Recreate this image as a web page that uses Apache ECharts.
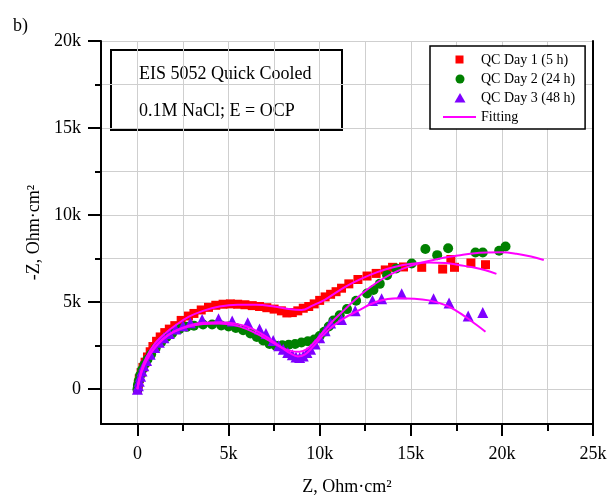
<!DOCTYPE html>
<html>
<head>
<meta charset="utf-8">
<script src="https://cdn.jsdelivr.net/npm/echarts@6/dist/echarts.min.js"></script>
<style>html,body{margin:0;padding:0;background:#fff;}#c{width:613px;height:496px;}</style>
</head>
<body>
<div id="c"></div>
<script>
// values in kOhm·cm²: [Z', -Z'']
const day1 = [[0,0],[0.05,0.3],[0.1,0.6],[0.2,0.95],[0.3,1.25],[0.42,1.55],[0.55,1.85],[0.7,2.15],[0.85,2.45],[1.05,2.75],[1.25,3.0],[1.5,3.25],[1.75,3.45],[2.05,3.65],[2.4,3.95],[2.8,4.2],[3.1,4.35],[3.5,4.55],[3.9,4.7],[4.3,4.82],[4.7,4.88],[5.1,4.9],[5.5,4.88],[5.9,4.85],[6.3,4.8],[6.7,4.75],[7.1,4.68],[7.5,4.6],[7.9,4.5],[8.2,4.38],[8.5,4.4],[8.8,4.5],[9.1,4.65],[9.4,4.75],[9.7,4.9],[10.0,5.1],[10.3,5.3],[10.6,5.45],[10.9,5.6],[11.2,5.8],[11.6,6.05],[12.1,6.3],[12.6,6.5],[13.1,6.65],[13.6,6.85],[14.0,7.0],[14.6,7.02],[15.6,7.0],[16.75,6.9],[17.2,7.45],[17.4,7.0],[18.3,7.25],[19.1,7.15]];
const day2 = [[0,0],[0.03,0.25],[0.08,0.5],[0.15,0.8],[0.25,1.1],[0.38,1.4],[0.55,1.7],[0.75,2.0],[1.0,2.35],[1.3,2.7],[1.6,3.0],[1.9,3.2],[2.3,3.45],[2.7,3.58],[3.1,3.65],[3.6,3.72],[4.1,3.72],[4.6,3.66],[5.0,3.6],[5.4,3.52],[5.8,3.38],[6.2,3.2],[6.55,3.0],[6.9,2.8],[7.25,2.6],[7.6,2.5],[7.95,2.52],[8.3,2.55],[8.65,2.6],[9.0,2.68],[9.35,2.75],[9.7,2.85],[10.0,3.05],[10.25,3.3],[10.5,3.6],[10.75,3.95],[11.1,4.25],[11.5,4.6],[12.0,5.08],[12.6,5.5],[12.95,5.7],[13.3,6.05],[13.7,6.55],[14.2,6.93],[15.05,7.22],[15.8,8.05],[16.45,7.7],[17.05,8.1],[18.55,7.85],[18.95,7.85],[19.85,7.95],[20.2,8.2]];
const day3 = [[0,0],[0.05,0.2],[0.1,0.45],[0.17,0.75],[0.25,1.05],[0.35,1.35],[0.5,1.65],[0.7,2.0],[0.95,2.4],[1.2,2.7],[1.45,2.95],[1.75,3.2],[2.1,3.45],[2.5,3.65],[2.9,3.82],[3.55,4.0],[4.45,4.05],[5.2,3.92],[6.05,3.82],[6.7,3.45],[7.05,3.2],[7.45,2.8],[7.75,2.5],[8.0,2.3],[8.25,2.1],[8.5,1.98],[8.7,1.85],[8.9,1.82],[9.1,1.9],[9.3,2.1],[9.5,2.3],[9.75,2.6],[10.0,2.95],[10.3,3.35],[10.6,3.8],[11.2,4.0],[11.95,4.5],[12.9,5.1],[13.4,5.2],[14.5,5.48],[16.25,5.2],[17.1,4.95],[18.15,4.2],[18.95,4.4]];
const fit1 = [[0,0],[0.08,0.5],[0.25,1.2],[0.5,1.85],[0.9,2.55],[1.4,3.1],[2.0,3.6],[2.8,4.15],[3.6,4.5],[4.5,4.75],[5.5,4.85],[6.5,4.85],[7.5,4.75],[8.3,4.6],[9.0,4.55],[9.6,4.8],[10.3,5.15],[11.4,5.88],[12.3,6.35],[13.2,6.74],[14.1,7.02],[15.06,7.2],[16.0,7.27],[16.9,7.25],[17.7,7.12],[18.4,7.0],[19.1,6.83],[19.7,6.62]];
const fit2 = [[0,0],[0.08,0.45],[0.25,1.1],[0.5,1.7],[0.9,2.35],[1.4,2.9],[2.0,3.3],[2.8,3.6],[3.6,3.75],[4.5,3.78],[5.3,3.68],[6.0,3.45],[6.7,3.1],[7.3,2.75],[7.9,2.4],[8.4,2.2],[8.9,2.15],[9.3,2.3],[9.7,2.7],[10.2,3.3],[10.8,4.0],[11.4,4.6],[12.0,5.2],[12.7,5.8],[13.4,6.3],[14.2,6.75],[15.0,7.08],[15.8,7.32],[16.8,7.55],[17.6,7.68],[18.4,7.8],[19.2,7.85],[20.0,7.86],[20.8,7.78],[21.6,7.62],[22.3,7.42]];
const fit3 = [[0,0],[0.08,0.4],[0.25,1.05],[0.5,1.65],[0.9,2.3],[1.4,2.85],[2.0,3.3],[2.8,3.65],[3.6,3.82],[4.5,3.85],[5.3,3.78],[6.0,3.6],[6.7,3.25],[7.3,2.85],[7.9,2.4],[8.4,2.05],[8.8,1.88],[9.2,2.0],[9.6,2.4],[10.1,3.0],[10.7,3.6],[11.3,4.05],[12.0,4.45],[13.2,5.05],[14.3,5.22],[15.2,5.2],[16.0,5.1],[16.9,4.83],[17.5,4.5],[18.0,4.16],[18.6,3.7],[19.1,3.3]];
const seriesNames = ['QC Day 1 (5 h)','QC Day 2 (24 h)','QC Day 3 (48 h)','Fitting'];
const xMajorTicks = [0,5,10,15,20,25];
const xMinorTicks = [0,2.5,5,7.5,10,12.5,15,17.5,20,22.5,25];
const yMajorTicks = [0,5,10,15,20];
const yMinorTicks = [0,2.5,5,7.5,10,12.5,15,17.5,20];
const annotationLines = ['EIS 5052 Quick Cooled','0.1M NaCl; E = OCP'];

const FONT = 'Liberation Serif';
const fmtK = v => v === 0 ? '0' : v + 'k';
// legend icons padded to the full 33x10 item box so they keep their own size
const legendIcons = [
  'path://M0,0M33,10M12.5,0.5L20.5,0.5L20.5,8.5L12.5,8.5Z',
  'path://M0,0M33,10M12.5,5A4.5,4.5,0,1,1,21.5,5A4.5,4.5,0,1,1,12.5,5Z',
  'path://M0,0M33,10M17,0L22.5,9.5L11.5,9.5Z',
  'path://M0,0M33,10M0,4L33,4L33,6L0,6Z'
];
const chart = echarts.init(document.getElementById('c'), null, {renderer:'canvas'});
const axisBase = (min, max) => ({type:'value', min, max});
chart.setOption({
  animation:false,
  backgroundColor:'#fff',
  textStyle:{fontFamily:FONT},
  title:{text:'b)', left:8, top:12, textStyle:{fontFamily:FONT, fontSize:18, fontWeight:'normal', color:'#000'}},
  grid:{left:101, right:20, top:41, bottom:72, containLabel:false, outerBoundsMode:'none'},
  legend:{
    orient:'vertical', left:430, top:46,
    data:seriesNames.map((n,i) => ({name:n, icon:legendIcons[i]})),
    backgroundColor:'#fff', borderColor:'#000', borderWidth:1.5,
    padding:[7,10,5,13], itemGap:5, itemWidth:33, itemHeight:10,
    textStyle:{fontFamily:FONT, fontSize:14, color:'#000'}
  },
  xAxis:[
    Object.assign(axisBase(-2,25), {
      position:'bottom',
      name:'Z, Ohm·cm²', nameLocation:'middle', nameGap:54,
      nameTextStyle:{fontFamily:FONT, fontSize:18, color:'#000'},
      axisLine:{show:true, onZero:false, lineStyle:{color:'#000', width:2}},
      axisTick:{show:true, customValues:xMinorTicks, length:7, lineStyle:{color:'#000', width:2}},
      axisLabel:{customValues:xMajorTicks, formatter:fmtK, margin:21, fontFamily:FONT, fontSize:18, color:'#000'},
      splitLine:{show:true, lineStyle:{color:'#cfcfcf', width:1}}
    }),
    Object.assign(axisBase(-2,25), {
      position:'bottom',
      axisLine:{show:false, onZero:false},
      axisTick:{show:true, customValues:xMajorTicks, length:12, lineStyle:{color:'#000', width:2}},
      axisLabel:{show:false},
      splitLine:{show:false}
    })
  ],
  yAxis:[
    Object.assign(axisBase(-2,20), {
      position:'left',
      name:'-Z, Ohm·cm²', nameLocation:'middle', nameGap:51,
      nameTextStyle:{fontFamily:FONT, fontSize:18, color:'#000'},
      axisLine:{show:true, onZero:false, lineStyle:{color:'#000', width:2}},
      axisTick:{show:true, customValues:yMinorTicks, length:6, lineStyle:{color:'#000', width:2}},
      axisLabel:{customValues:yMajorTicks, formatter:fmtK, margin:20, fontFamily:FONT, fontSize:18, color:'#000'},
      splitLine:{show:true, lineStyle:{color:'#cfcfcf', width:1}}
    }),
    Object.assign(axisBase(-2,20), {
      position:'left',
      axisLine:{show:false, onZero:false},
      axisTick:{show:true, customValues:yMajorTicks, length:13, lineStyle:{color:'#000', width:2}},
      axisLabel:{show:false},
      splitLine:{show:false}
    }),
    Object.assign(axisBase(-2,20), {
      position:'right',
      axisLine:{show:true, onZero:false, lineStyle:{color:'#000', width:2}},
      axisTick:{show:false}, axisLabel:{show:false}, splitLine:{show:false}
    })
  ],
  graphic:[{
    type:'group', left:110, top:49, z:100,
    children:[
      {type:'rect', shape:{x:0,y:0,width:231,height:80}, style:{fill:'#fff', stroke:'#000', lineWidth:2}},
      {type:'text', x:28, y:24, style:{text:annotationLines[0], font:'18px "Liberation Serif"', fill:'#000', textVerticalAlign:'middle'}},
      {type:'text', x:28, y:61, style:{text:annotationLines[1], font:'18px "Liberation Serif"', fill:'#000', textVerticalAlign:'middle'}}
    ]
  }],
  series:[
    {name:seriesNames[0], type:'scatter', data:day1, symbol:'rect', symbolSize:9, itemStyle:{color:'#ff0000', opacity:1}},
    {name:seriesNames[1], type:'scatter', data:day2, symbol:'circle', symbolSize:10, itemStyle:{color:'#008000', opacity:1}},
    {name:seriesNames[2], type:'scatter', data:day3, symbol:'triangle', symbolSize:11, itemStyle:{color:'#7f00ff', opacity:1}},
    {name:seriesNames[3], type:'line', data:fit1, symbol:'none', smooth:0.4, lineStyle:{color:'#ff00ff', width:2}, itemStyle:{color:'#ff00ff'}},
    {name:seriesNames[3], type:'line', data:fit2, symbol:'none', smooth:0.4, lineStyle:{color:'#ff00ff', width:2}, itemStyle:{color:'#ff00ff'}},
    {name:seriesNames[3], type:'line', data:fit3, symbol:'none', smooth:0.4, lineStyle:{color:'#ff00ff', width:2}, itemStyle:{color:'#ff00ff'}}
  ]
});
</script>
</body>
</html>
